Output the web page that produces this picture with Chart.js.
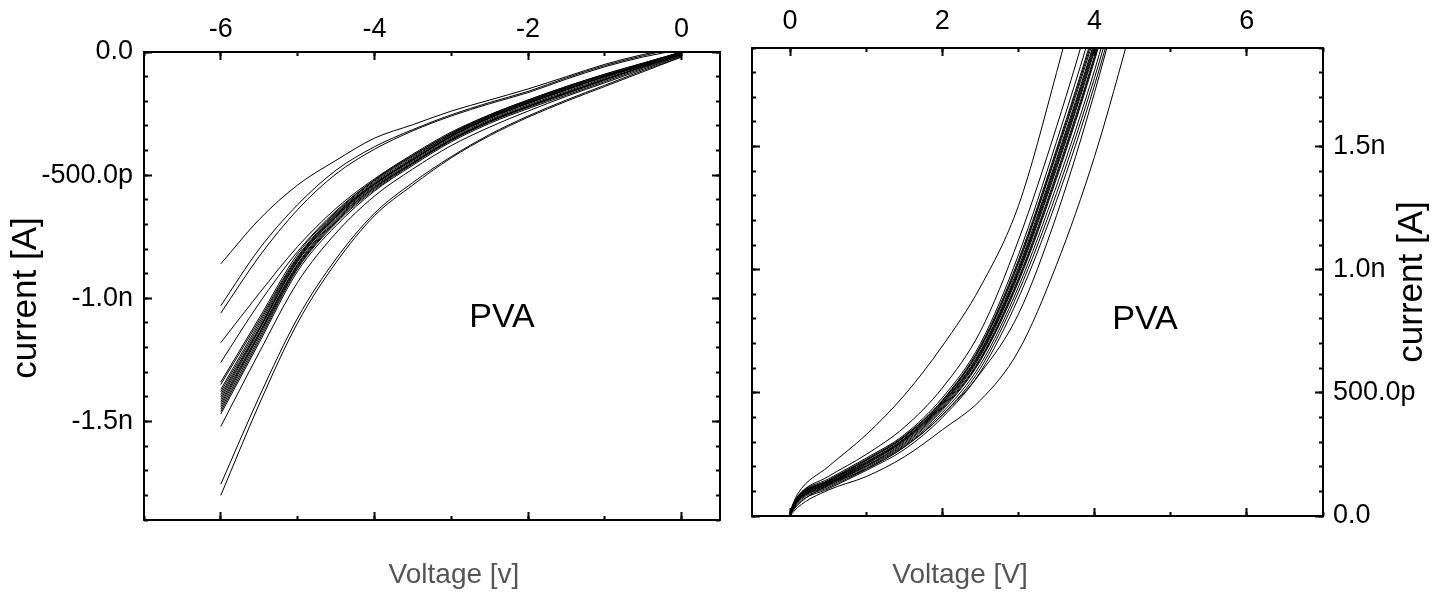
<!DOCTYPE html>
<html>
<head>
<meta charset="utf-8">
<script src="https://cdn.jsdelivr.net/npm/chart.js@4.4.1/dist/chart.umd.min.js"></script>
<style>
    body { margin: 0; background: #fff; }
    #wrap { position: relative; width: 1446px; height: 595px; overflow: hidden; }
    canvas { position: absolute; top: 0; }
    #leftChart { left: 0; }
    #rightChart { left: 736px; }
</style>
</head>
<body>
<div id="wrap">
    <canvas id="leftChart" width="736" height="595"></canvas>
    <canvas id="rightChart" width="710" height="595"></canvas>
</div>
<script>
// Reverse sweeps (left panel), voltage in V, current in nA
var leftVoltage = [-6, -5.5, -5, -4.5, -4, -3.5, -3, -2.5, -2, -1.5, -1, -0.5, 0];
var leftSweep01 = [-0.86, -0.68, -0.54, -0.44, -0.35, -0.295, -0.24, -0.195, -0.15, -0.1, -0.05, -0.01, 0.02];
var leftSweep02 = [-1.03, -0.80, -0.62, -0.48, -0.385, -0.315, -0.255, -0.205, -0.16, -0.105, -0.055, -0.015, 0.02];
var leftSweep03 = [-1.06, -0.83, -0.64, -0.495, -0.395, -0.32, -0.26, -0.21, -0.165, -0.11, -0.06, -0.02, 0.01];
var leftSweep04 = [-1.34, -1.08, -0.82, -0.65, -0.52, -0.42, -0.33, -0.255, -0.195, -0.14, -0.09, -0.045, 0];
var leftSweep05 = [-1.37, -1.10, -0.835, -0.66, -0.53, -0.43, -0.335, -0.26, -0.2, -0.145, -0.095, -0.05, 0];
var leftSweep06 = [-1.39, -1.12, -0.845, -0.665, -0.535, -0.435, -0.34, -0.265, -0.205, -0.15, -0.1, -0.05, -0.005];
var leftSweep07 = [-1.41, -1.13, -0.85, -0.67, -0.54, -0.44, -0.345, -0.27, -0.21, -0.155, -0.1, -0.055, -0.005];
var leftSweep08 = [-1.42, -1.14, -0.86, -0.675, -0.545, -0.445, -0.35, -0.275, -0.215, -0.16, -0.105, -0.055, -0.01];
var leftSweep09 = [-1.44, -1.15, -0.87, -0.685, -0.55, -0.45, -0.355, -0.28, -0.22, -0.165, -0.11, -0.06, -0.01];
var leftSweep10 = [-1.46, -1.17, -0.88, -0.695, -0.56, -0.455, -0.36, -0.285, -0.225, -0.17, -0.115, -0.06, -0.01];
var leftSweep11 = [-1.47, -1.18, -0.89, -0.705, -0.565, -0.46, -0.365, -0.29, -0.23, -0.175, -0.12, -0.065, -0.015];
var leftSweep12 = [-1.18, -0.98, -0.79, -0.635, -0.515, -0.415, -0.325, -0.255, -0.195, -0.14, -0.09, -0.045, 0];
var leftSweep13 = [-1.26, -1.02, -0.81, -0.645, -0.52, -0.42, -0.33, -0.26, -0.2, -0.145, -0.095, -0.05, 0];
var leftSweep14 = [-1.755, -1.40, -1.08, -0.84, -0.655, -0.53, -0.425, -0.335, -0.26, -0.195, -0.135, -0.075, -0.02];
var leftSweep15 = [-1.80, -1.43, -1.10, -0.855, -0.665, -0.54, -0.43, -0.34, -0.265, -0.2, -0.14, -0.08, -0.02];
var leftSweep16 = [-1.52, -1.22, -0.935, -0.735, -0.585, -0.475, -0.38, -0.305, -0.24, -0.18, -0.125, -0.07, -0.015];
var leftSweep17 = [-1.38, -1.11, -0.84, -0.66, -0.535, -0.435, -0.34, -0.265, -0.205, -0.15, -0.1, -0.05, -0.005];
var leftSweep18 = [-1.43, -1.145, -0.865, -0.68, -0.55, -0.45, -0.355, -0.28, -0.22, -0.165, -0.11, -0.06, -0.01];
var leftSweep19 = [-1.35, -1.09, -0.83, -0.655, -0.525, -0.425, -0.335, -0.26, -0.2, -0.145, -0.095, -0.05, 0];
var leftSweep20 = [-1.45, -1.16, -0.875, -0.69, -0.555, -0.452, -0.358, -0.283, -0.222, -0.167, -0.112, -0.06, -0.01];
var leftSweep21 = [-1.40, -1.125, -0.85, -0.668, -0.538, -0.438, -0.343, -0.268, -0.208, -0.153, -0.1, -0.053, -0.005];

// Forward sweeps (right panel)
var rightVoltage = [0, 0.1, 0.5, 1, 1.5, 2, 2.5, 3, 3.5, 4, 4.5];
var rightSweep01 = [0.02, 0.09, 0.2, 0.33, 0.49, 0.69, 0.93, 1.26, 1.80, 2.4, 3.0];
var rightSweep02 = [0.02, 0.08, 0.16, 0.25, 0.36, 0.52, 0.75, 1.12, 1.58, 2.1, 2.7];
var rightSweep03 = [0.02, 0.08, 0.15, 0.235, 0.33, 0.48, 0.70, 1.06, 1.52, 2.02, 2.6];
var rightSweep04 = [0.02, 0.075, 0.145, 0.23, 0.325, 0.47, 0.69, 1.04, 1.49, 1.98, 2.55];
var rightSweep05 = [0.015, 0.075, 0.14, 0.225, 0.32, 0.465, 0.68, 1.025, 1.47, 1.95, 2.5];
var rightSweep06 = [0.015, 0.07, 0.14, 0.22, 0.315, 0.46, 0.67, 1.01, 1.45, 1.93, 2.48];
var rightSweep07 = [0.015, 0.07, 0.135, 0.215, 0.31, 0.455, 0.66, 0.995, 1.43, 1.91, 2.46];
var rightSweep08 = [0.01, 0.065, 0.13, 0.21, 0.305, 0.445, 0.65, 0.98, 1.41, 1.89, 2.44];
var rightSweep09 = [0.01, 0.065, 0.13, 0.205, 0.30, 0.44, 0.64, 0.965, 1.39, 1.87, 2.42];
var rightSweep10 = [0.01, 0.06, 0.125, 0.20, 0.29, 0.43, 0.63, 0.95, 1.37, 1.85, 2.4];
var rightSweep11 = [0.01, 0.06, 0.12, 0.195, 0.285, 0.42, 0.615, 0.93, 1.34, 1.81, 2.36];
var rightSweep12 = [0.005, 0.055, 0.115, 0.19, 0.28, 0.41, 0.60, 0.91, 1.31, 1.78, 2.32];
var rightSweep13 = [0.005, 0.05, 0.11, 0.185, 0.27, 0.40, 0.585, 0.885, 1.28, 1.75, 2.3];
var rightSweep14 = [0.005, 0.045, 0.125, 0.19, 0.28, 0.41, 0.58, 0.82, 1.22, 1.72, 2.3];
var rightSweep15 = [0.0, 0.035, 0.105, 0.16, 0.24, 0.35, 0.47, 0.67, 1.02, 1.46, 2.0];
var rightSweep16 = [0.015, 0.072, 0.138, 0.218, 0.312, 0.458, 0.665, 1.0, 1.44, 1.92, 2.47];
var rightSweep17 = [0.012, 0.068, 0.133, 0.212, 0.307, 0.45, 0.655, 0.988, 1.42, 1.90, 2.45];
var rightSweep18 = [0.01, 0.062, 0.128, 0.203, 0.295, 0.435, 0.635, 0.958, 1.38, 1.86, 2.41];
var rightSweep19 = [0.018, 0.078, 0.143, 0.227, 0.322, 0.468, 0.685, 1.03, 1.48, 1.965, 2.52];

var leftSweeps = [leftSweep01, leftSweep02, leftSweep03, leftSweep04, leftSweep05, leftSweep06,
    leftSweep07, leftSweep08, leftSweep09, leftSweep10, leftSweep11, leftSweep12,
    leftSweep13, leftSweep14, leftSweep15, leftSweep16, leftSweep17, leftSweep18,
    leftSweep19, leftSweep20, leftSweep21];
var rightSweeps = [rightSweep01, rightSweep02, rightSweep03, rightSweep04, rightSweep05,
    rightSweep06, rightSweep07, rightSweep08, rightSweep09, rightSweep10, rightSweep11,
    rightSweep12, rightSweep13, rightSweep14, rightSweep15, rightSweep16, rightSweep17,
    rightSweep18, rightSweep19];

var FONT = "'Liberation Sans', Arial, sans-serif";

function currentLabel(v) {
    if (Math.abs(v) < 1e-9) return '0.0';
    if (Math.abs(v) < 1) return (v * 1000).toFixed(1) + 'p';
    return v.toFixed(1) + 'n';
}

function toDatasets(volts, sweeps) {
    return sweeps.map(function(s, i) {
        return {
            label: 'sweep ' + (i + 1),
            data: volts.map(function(v, j) { return {x: v, y: s[j]}; }),
            borderColor: '#000',
            borderWidth: 1,
            pointRadius: 0,
            fill: false,
            cubicInterpolationMode: 'monotone',
            xAxisID: 'x',
            yAxisID: 'y'
        };
    });
}

// one side of the frame; ticks point into the plot
function frameAxis(pos, min, max, step, size, major, labelPad, fmt) {
    return {
        type: 'linear',
        position: pos,
        min: min,
        max: max,
        weight: major ? 1 : 0,
        afterFit: function(scale) {
            if (scale.isHorizontal()) scale.height = size; else scale.width = size;
        },
        border: { display: major, color: '#000', width: 2 },
        grid: {
            drawOnChartArea: false,
            drawTicks: true,
            tickLength: major ? -8 : -4,
            tickColor: '#000',
            tickWidth: 2
        },
        ticks: {
            display: !!fmt,
            stepSize: step,
            includeBounds: false,
            autoSkip: false,
            maxRotation: 0,
            padding: labelPad || 0,
            color: '#000',
            font: { family: FONT, size: 27 },
            callback: fmt || function() { return ''; }
        }
    };
}

function textPlugin(items) {
    return {
        id: 'freeText',
        afterDraw: function(chart) {
            var ctx = chart.ctx;
            items.forEach(function(t) {
                ctx.save();
                ctx.translate(t.x, t.y);
                if (t.rotate) ctx.rotate(t.rotate);
                ctx.font = t.font;
                ctx.fillStyle = t.color || '#000';
                ctx.textAlign = 'center';
                ctx.textBaseline = 'middle';
                ctx.fillText(t.text, 0, 0);
                ctx.restore();
            });
        }
    };
}

var common = {
    responsive: false,
    animation: false,
    layout: { padding: 0 },
    plugins: { legend: { display: false }, tooltip: { enabled: false } }
};

var leftChart = new Chart(document.getElementById('leftChart'), {
    type: 'line',
    data: { datasets: toDatasets(leftVoltage, leftSweeps) },
    options: Object.assign({}, common, {
        scales: {
            x: frameAxis('top', -7, 0.5, 2, 52, true, 14, function(v) { return String(v); }),
            xMinorTop: frameAxis('top', -7, 0.5, 1, 0, false),
            xBottom: frameAxis('bottom', -7, 0.5, 2, 75, true),
            xMinorBottom: frameAxis('bottom', -7, 0.5, 1, 0, false),
            y: frameAxis('left', -1.9, 0, 0.5, 144, true, 19, currentLabel),
            yMinorLeft: frameAxis('left', -1.9, 0, 0.1, 0, false),
            yRight: frameAxis('right', -1.9, 0, 0.5, 16, true),
            yMinorRight: frameAxis('right', -1.9, 0, 0.1, 0, false)
        }
    }),
    plugins: [textPlugin([
        { text: 'current [A]', x: 26, y: 298, rotate: -Math.PI / 2, font: '35px ' + FONT },
        { text: 'PVA', x: 502, y: 318, font: '34px ' + FONT },
        { text: 'Voltage [v]', x: 454, y: 575, font: '28px ' + FONT, color: '#555' }
    ])]
});

var rightChart = new Chart(document.getElementById('rightChart'), {
    type: 'line',
    data: { datasets: toDatasets(rightVoltage, rightSweeps) },
    options: Object.assign({}, common, {
        scales: {
            x: frameAxis('top', -0.5, 7, 2, 48, true, 18, function(v) { return String(v); }),
            xMinorTop: frameAxis('top', -0.5, 7, 1, 0, false),
            xBottom: frameAxis('bottom', -0.5, 7, 2, 79, true),
            xMinorBottom: frameAxis('bottom', -0.5, 7, 1, 0, false),
            yLeft: frameAxis('left', 0, 1.9, 0.5, 16, true),
            yMinorLeft: frameAxis('left', 0, 1.9, 0.1, 0, false),
            y: frameAxis('right', 0, 1.9, 0.5, 123, true, 18, currentLabel),
            yMinorRight: frameAxis('right', 0, 1.9, 0.1, 0, false)
        }
    }),
    plugins: [textPlugin([
        { text: 'current [A]', x: 676, y: 282, rotate: -Math.PI / 2, font: '35px ' + FONT },
        { text: 'PVA', x: 409, y: 320, font: '34px ' + FONT },
        { text: 'Voltage [V]', x: 224, y: 575, font: '28px ' + FONT, color: '#555' }
    ])]
});
</script>
</body>
</html>
